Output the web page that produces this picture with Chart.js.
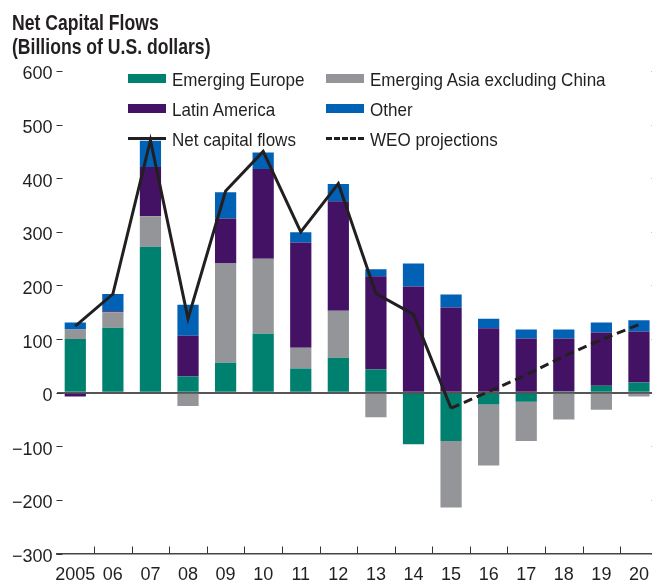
<!DOCTYPE html>
<html>
<head>
<meta charset="utf-8">
<script src="https://cdn.jsdelivr.net/npm/chart.js@4.4.1/dist/chart.umd.min.js"></script>
<style>
  html, body { margin: 0; padding: 0; background: #fff; width: 652px; height: 584px; overflow: hidden; }
  #wrap { position: relative; width: 660px; height: 584px; }
  canvas { position: absolute; left: 0; top: 0; }
  .title { position: absolute; left: 12px; font: bold 22px "Liberation Sans", Arial, sans-serif; line-height: 22px;
           color: #231f20; transform: scaleX(0.8); transform-origin: left top; white-space: nowrap; }
  .lab { position: absolute; font: 18.5px "Liberation Sans", Arial, sans-serif; line-height: 18.5px; color: #231f20;
         transform: scaleX(0.92); transform-origin: left top; white-space: nowrap; }
  .sw { position: absolute; width: 38px; height: 9px; }
  .ln { position: absolute; width: 38px; height: 0; border-top: 3px solid #231f20; }
  .dl { position: absolute; width: 38px; height: 0; border-top: 3px dashed #231f20; }
</style>
</head>
<body>
<div id="wrap">
  <canvas id="chart" width="660" height="584"></canvas>
  <div class="title" style="top:12px">Net Capital Flows</div>
  <div class="title" style="top:35.5px">(Billions of U.S. dollars)</div>
  <div id="legend"></div>
</div>
<script>
const years = ["2005", "06", "07", "08", "09", "10", "11", "12", "13", "14", "15", "16", "17", "18", "19", "20"];
const emergingEurope = [100, 121, 272, 30, 56, 110, 45, 65, 43, -96, -90, -22, -17, 2, 13, 19];
const emergingAsia = [18, 29, 57, -25, 185, 140, 39, 88, -46, 0, -124, -114, -73, -50, -32, -7];
const latinAmerica = [-7, 2, 92, 76, 84, 167, 196, 204, 174, 198, 159, 120, 101, 99, 99, 95];
const other = [13, 32, 49, 58, 49, 31, 19, 32, 13, 43, 24, 18, 17, 17, 19, 21];
const netFlows = [124, 184, 471, 138, 376, 450, 300, 390, 185, 146, -29, null, null, null, null, null];
const weoProjections = [null, null, null, null, null, null, null, null, null, null, -29, 2, 33, 68, 99, 127];
const yTicks = [-300, -200, -100, 0, 100, 200, 300, 400, 500, 600];

const colors = {
    europe: "#00806f",
    asia: "#939598",
    latam: "#441264",
    other: "#0061b5",
    line: "#231f20"
};

// legend drawn as html, two columns
const legendItems = [
    { text: "Emerging Europe", cls: "sw", color: colors.europe, x: 128, row: 0 },
    { text: "Emerging Asia excluding China", cls: "sw", color: colors.asia, x: 326, row: 0 },
    { text: "Latin America", cls: "sw", color: colors.latam, x: 128, row: 1 },
    { text: "Other", cls: "sw", color: colors.other, x: 326, row: 1 },
    { text: "Net capital flows", cls: "ln", x: 128, row: 2 },
    { text: "WEO projections", cls: "dl", x: 326, row: 2 }
];
const legend = document.getElementById("legend");
legendItems.forEach(item => {
    const midY = 78 + item.row * 30;
    const mark = document.createElement("div");
    mark.className = item.cls;
    mark.style.left = item.x + "px";
    if (item.cls === "sw") {
        mark.style.top = (midY - 4.5) + "px";
        mark.style.background = item.color;
    } else {
        mark.style.top = (midY - 1.5) + "px";
    }
    legend.appendChild(mark);
    const lab = document.createElement("div");
    lab.className = "lab";
    lab.style.left = (item.x + 44) + "px";
    lab.style.top = (71.3 + item.row * 30) + "px";
    lab.textContent = item.text;
    legend.appendChild(lab);
});

// inward tick marks on both y sides and on the bottom axis
const innerTicks = {
    id: "innerTicks",
    afterDraw(chart) {
        const { ctx, chartArea, scales } = chart;
        ctx.save();
        ctx.strokeStyle = "#333";
        ctx.lineWidth = 1;
        ctx.beginPath();
        yTicks.forEach(v => {
            const y = Math.round(scales.y.getPixelForValue(v)) + 0.5;
            ctx.moveTo(chartArea.left, y);
            ctx.lineTo(chartArea.left + 6, y);
            ctx.moveTo(chartArea.right - 6, y);
            ctx.lineTo(chartArea.right, y);
        });
        const step = (chartArea.right - chartArea.left) / years.length;
        for (let i = 1; i < years.length; i++) {
            const x = Math.round(scales.x.getPixelForValue(i) - step / 2) + 0.5;
            ctx.moveTo(x, chartArea.bottom);
            ctx.lineTo(x, chartArea.bottom - 7);
        }
        ctx.stroke();
        ctx.restore();
    }
};

const barCommon = { stack: "bars", categoryPercentage: 1, barPercentage: 0.565, order: 2, borderWidth: 0 };

new Chart(document.getElementById("chart"), {
    type: "bar",
    data: {
        labels: years,
        datasets: [
            { ...barCommon, label: "Emerging Europe", data: emergingEurope, backgroundColor: colors.europe },
            { ...barCommon, label: "Emerging Asia excluding China", data: emergingAsia, backgroundColor: colors.asia },
            { ...barCommon, label: "Latin America", data: latinAmerica, backgroundColor: colors.latam },
            { ...barCommon, label: "Other", data: other, backgroundColor: colors.other },
            {
                type: "line", label: "Net capital flows", data: netFlows, stack: "net", order: 0,
                borderColor: colors.line, borderWidth: 3, pointRadius: 0, fill: false, spanGaps: false,
                borderJoinStyle: "miter"
            },
            {
                type: "line", label: "WEO projections", data: weoProjections, stack: "weo", order: 0,
                borderColor: colors.line, borderWidth: 3, borderDash: [9, 5], pointRadius: 0, fill: false,
                borderJoinStyle: "miter"
            }
        ]
    },
    options: {
        responsive: false,
        animation: false,
        layout: { padding: { top: 71, right: 1, left: 0, bottom: 0 } },
        plugins: { legend: { display: false }, tooltip: { enabled: false } },
        scales: {
            x: {
                stacked: true,
                offset: true,
                grid: { display: false, drawTicks: false },
                border: { display: true, color: "#444", width: 1.5 },
                ticks: { color: "#231f20", font: { family: "Liberation Sans", size: 18 }, padding: 11, maxRotation: 0, autoSkip: false },
                afterFit(scale) { scale.height = 30.5; }
            },
            y: {
                stacked: true,
                min: -300,
                max: 600,
                afterBuildTicks(scale) { scale.ticks = yTicks.map(v => ({ value: v })); },
                grid: {
                    drawTicks: false,
                    color: ctx => ctx.tick && ctx.tick.value === 0 ? "#555" : "rgba(0,0,0,0)",
                    lineWidth: ctx => ctx.tick && ctx.tick.value === 0 ? 2 : 0
                },
                border: { display: false },
                ticks: {
                    color: "#231f20", font: { family: "Liberation Sans", size: 18 }, padding: 4, labelOffset: 3.5,
                    callback: v => (v < 0 ? "\u2212" + Math.abs(v) : String(v))
                },
                afterFit(scale) { scale.width = 56.5; }
            }
        }
    },
    plugins: [innerTicks]
});
</script>
</body>
</html>
